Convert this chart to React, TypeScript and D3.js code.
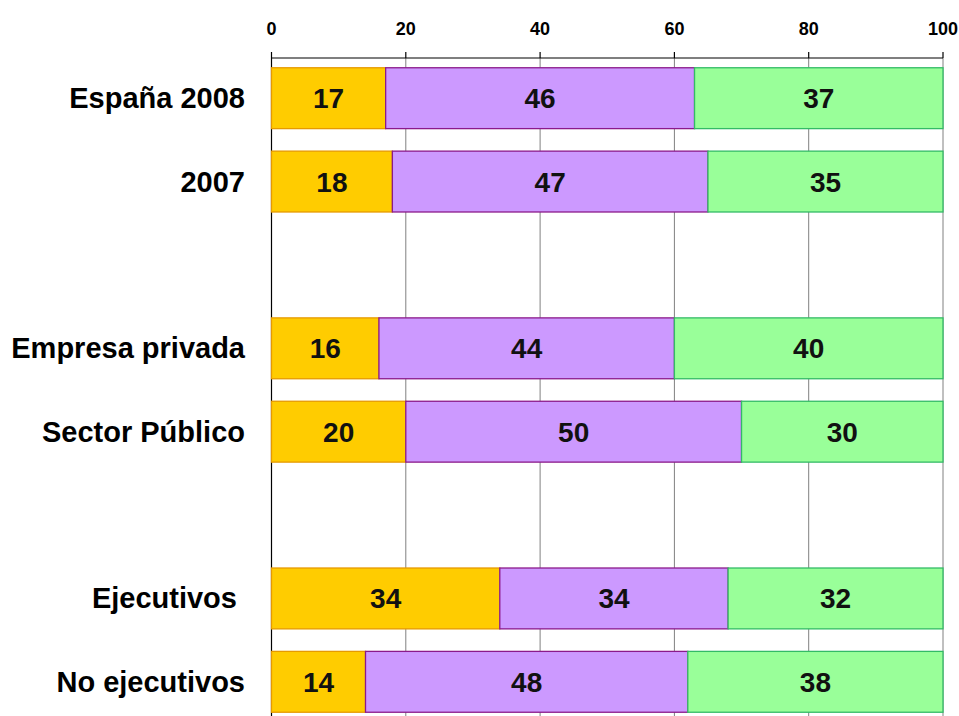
import React from "react";
import * as d3 from "d3";

const categories = ["España 2008", "2007", "gap1", "Empresa privada", "Sector Público", "gap2", "Ejecutivos ", "No ejecutivos"];
const seriesA = [17, 18, null, 16, 20, null, 34, 14];
const seriesB = [46, 47, null, 44, 50, null, 34, 48];
const seriesC = [37, 35, null, 40, 30, null, 32, 38];
const ticks = [0, 20, 40, 60, 80, 100];

const fills = ["#FFCC00", "#CC99FF", "#99FF99"];
const strokes = ["#E69A00", "#8B1A8B", "#33BB66"];

export default function App() {
  const W = 959, H = 716;
  const x = d3.scaleLinear().domain([0, 100]).range([271.5, 943]);
  const y = d3.scaleBand<string>().domain(categories).range([56.5, 723.5]).paddingInner(0.27).paddingOuter(0.135);
  const axisY = 58;
  const font = "'Liberation Sans', Arial, sans-serif";
  const series = [seriesA, seriesB, seriesC];

  return (
    <svg width={W} height={H} style={{ position: "absolute", left: 0, top: 0, background: "#fff" }}>
      {ticks.slice(1).map((t) => (
        <line key={"g" + t} x1={x(t)} x2={x(t)} y1={axisY} y2={H} stroke="#808080" strokeWidth={1} />
      ))}
      <line x1={x(0)} x2={x(0)} y1={axisY} y2={H} stroke="#000" strokeWidth={1.2} />
      <line x1={x(0)} x2={x(100)} y1={axisY} y2={axisY} stroke="#000" strokeWidth={1.2} />
      {ticks.map((t) => (
        <g key={"t" + t}>
          <line x1={x(t)} x2={x(t)} y1={axisY - 6} y2={axisY} stroke="#000" strokeWidth={1.2} />
          <text x={x(t)} y={35} textAnchor="middle" fontFamily={font} fontWeight="bold" fontSize={18} fill="#000">{t}</text>
        </g>
      ))}
      {categories.map((c, i) => {
        if (seriesA[i] == null) return null;
        const y0 = y(c)!;
        const bh = y.bandwidth();
        let acc = 0;
        return (
          <g key={c}>
            {series.map((s, k) => {
              const v = s[i] as number;
              const start = acc;
              acc += v;
              return (
                <g key={k}>
                  <rect x={x(start)} y={y0} width={x(start + v) - x(start)} height={bh} fill={fills[k]} stroke={strokes[k]} strokeWidth={1.3} />
                  <text x={(x(start) + x(start + v)) / 2} y={y0 + bh / 2 + 10} textAnchor="middle" fontFamily={font} fontWeight="bold" fontSize={28} fill="#111">{v}</text>
                </g>
              );
            })}
            <text x={245} y={y0 + bh / 2 + 10} textAnchor="end" fontFamily={font} fontWeight="bold" fontSize={29} fill="#000" style={{ whiteSpace: "pre" }}>{c}</text>
          </g>
        );
      })}
    </svg>
  );
}
